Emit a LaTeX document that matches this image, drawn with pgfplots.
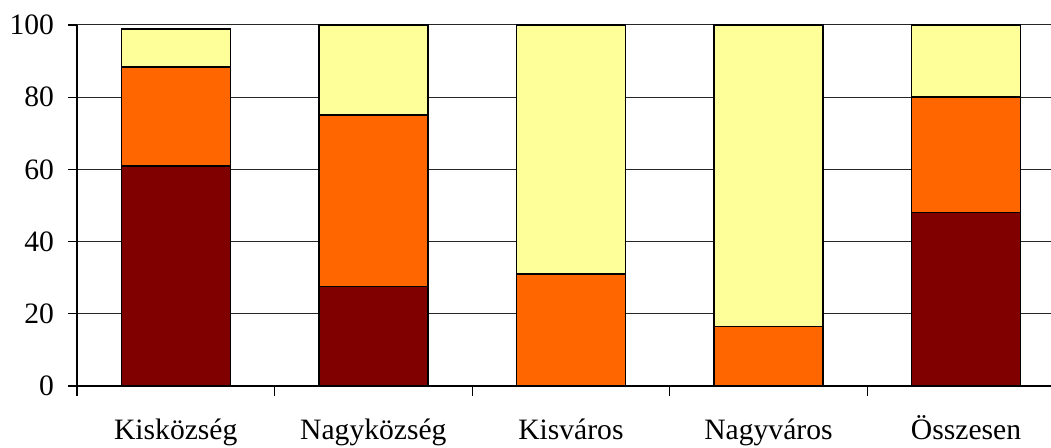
\documentclass[border=0pt]{standalone}
\usepackage{fontspec}
\setmainfont{Liberation Serif}
\usepackage{pgfplots}
\pgfplotsset{compat=1.18}

\definecolor{darkred}{HTML}{800000}
\definecolor{orangeseg}{HTML}{FF6600}
\definecolor{paleyellow}{HTML}{FFFF99}

\begin{document}
\begin{tikzpicture}
\begin{axis}[
  at={(0pt,0pt)}, anchor=south west,
  width=487pt, height=180.5pt, scale only axis,
  ybar stacked, bar width=54.5pt,
  xmin=-0.5, xmax=4.43,
  ymin=0, ymax=100,
  axis x line*=bottom, axis y line*=left,
  axis line style={black, line width=0.6pt},
  ytick={0,20,...,100},
  ymajorgrids, grid style={black!85, line width=0.5pt},
  xtick={0,1,2,3,4},
  xticklabels={Kisközség, Nagyközség, Kisváros, Nagyváros, Összesen},
  major x tick style={draw=none},
  minor xtick={-0.5,0.5,1.5,2.5,3.5},
  minor tick length=5pt,
  major tick length=4.5pt,
  tick align=outside,
  tick style={black, line width=0.6pt},
  /pgf/number format/assume math mode=true,
  ticklabel style={font=\fontsize{14.8}{17}\selectfont},
  yticklabel style={xshift=-3.5pt},
  xticklabel style={text height=11pt, text depth=3.5pt, yshift=-7.5pt},
  every axis plot/.append style={draw=black, line width=0.75pt},
]
\addplot[fill=darkred] coordinates {(0,61) (1,27.5) (2,0) (3,0) (4,48)};
\addplot[fill=orangeseg] coordinates {(0,27.4) (1,47.5) (2,31) (3,16.5) (4,32)};
\addplot[fill=paleyellow] coordinates {(0,10.5) (1,25) (2,69) (3,83.5) (4,20)};
\end{axis}
\pgfresetboundingbox
\path[use as bounding box] (-38.5pt,-31pt) rectangle (487pt,193pt);
\end{tikzpicture}
\end{document}
